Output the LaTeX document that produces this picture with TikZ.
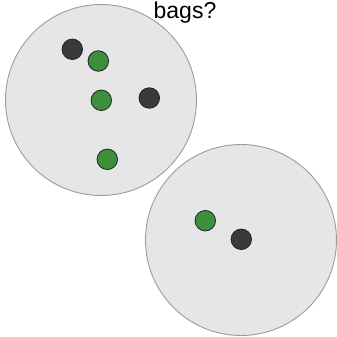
\documentclass[tikz,border=0pt]{standalone}
\usepackage{fontspec}
\setmainfont{Liberation Sans}
\definecolor{bagfill}{HTML}{E6E6E6}
\definecolor{bagline}{HTML}{9C9C9C}
\definecolor{ballgreen}{HTML}{3D8F3D}
\definecolor{balldark}{HTML}{3A3A3A}
\definecolor{ballline}{HTML}{222222}

\begin{document}
\begin{tikzpicture}[
  x=1pt,
  y=-1pt,
  bag/.style={circle, fill=bagfill, draw=bagline, line width=0.9pt, minimum size=191pt, inner sep=0pt},
  ball/.style={circle, draw=ballline, line width=0.8pt, minimum size=20.5pt, inner sep=0pt},
  green ball/.style={ball, fill=ballgreen},
  dark ball/.style={ball, fill=balldark}
]
  \useasboundingbox (0,0) rectangle (337,337);
  % the two bags
  \node[bag] (bagA) at (101,100) {};
  \node[bag] (bagB) at (241,240) {};
  \node[anchor=base, font=\fontsize{23}{25}\selectfont] (question) at (185,18.5) {bags?};

  % balls in the first bag
  \node[dark ball] (a1) at (72.3,49.3) {};
  \node[green ball] (a2) at (98.3,61) {};
  \node[green ball] (a3) at (101.3,100.3) {};
  \node[dark ball] (a4) at (149.3,98) {};
  \node[green ball] (a5) at (107.3,159.3) {};

  % balls in the second bag
  \node[green ball] (b1) at (205.3,220.7) {};
  \node[dark ball] (b2) at (241.3,239.3) {};
\end{tikzpicture}
\end{document}
